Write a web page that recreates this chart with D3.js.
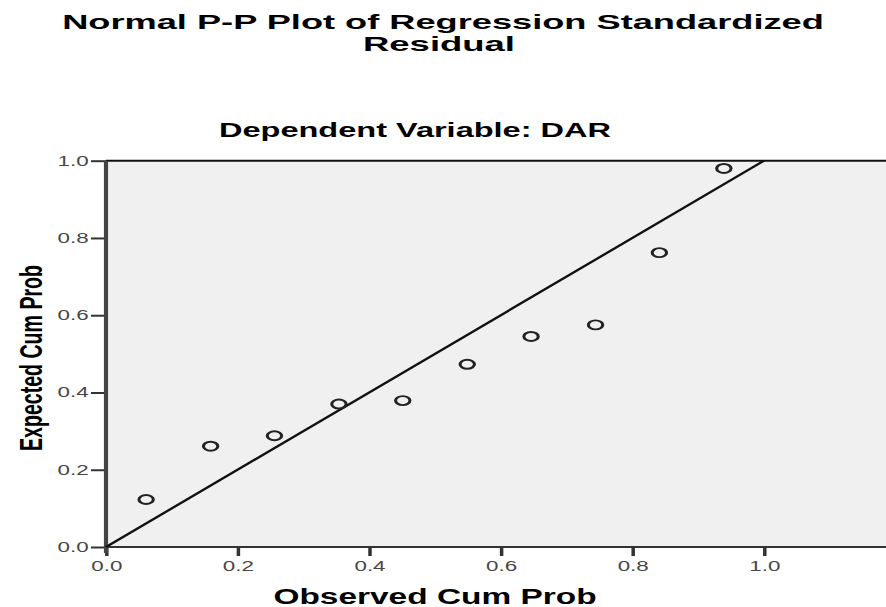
<!DOCTYPE html>
<html>
<head>
<meta charset="utf-8">
<script src="https://cdn.jsdelivr.net/npm/d3@7"></script>
<style>
  body { margin: 0; background: #fff; }
  text { font-family: "Liberation Sans", Arial, sans-serif; }
</style>
</head>
<body>
<div class="container"></div>
<script>
// observed / expected cumulative probabilities
let observed = [0.061, 0.159, 0.256, 0.354, 0.451, 0.549, 0.646, 0.744, 0.841, 0.939];
let expected = [0.123, 0.261, 0.288, 0.370, 0.379, 0.473, 0.545, 0.575, 0.762, 0.980];
let xTicks = [0, 0.2, 0.4, 0.6, 0.8, 1.0];
let yTicks = [0, 0.2, 0.4, 0.6, 0.8, 1.0];

let W = 886, H = 607;
// the original picture is stretched sideways, so draw narrow and scale up
let stretch = 1.6;
let innerW = W / stretch;

let plot = { left: 66.25, right: innerW, top: 160.7, bottom: 547 };

let svg = d3.select(".container")
    .append("svg")
    .attr("width", W)
    .attr("height", H)
    .append("g")
    .attr("transform", "scale(" + stretch + ",1)");

let x = d3.scaleLinear()
    .domain([0, 1])
    .range([plot.left, 477.5]);

let y = d3.scaleLinear()
    .domain([0, 1])
    .range([plot.bottom, plot.top]);

// titles
svg.append("text")
    .attr("x", innerW / 2)
    .attr("y", 29)
    .attr("text-anchor", "middle")
    .attr("font-size", 21)
    .attr("font-weight", "bold")
    .attr("textLength", 476)
    .attr("lengthAdjust", "spacingAndGlyphs")
    .text("Normal P-P Plot of Regression Standardized");

svg.append("text")
    .attr("x", 439 / stretch)
    .attr("y", 51)
    .attr("text-anchor", "middle")
    .attr("font-size", 21)
    .attr("font-weight", "bold")
    .attr("textLength", 95)
    .attr("lengthAdjust", "spacingAndGlyphs")
    .text("Residual");

svg.append("text")
    .attr("x", 415 / stretch)
    .attr("y", 137)
    .attr("text-anchor", "middle")
    .attr("font-size", 21)
    .attr("font-weight", "bold")
    .attr("textLength", 245)
    .attr("lengthAdjust", "spacingAndGlyphs")
    .text("Dependent Variable: DAR");

// plot background
svg.append("rect")
    .attr("x", plot.left)
    .attr("y", plot.top)
    .attr("width", plot.right - plot.left)
    .attr("height", plot.bottom - plot.top)
    .attr("fill", "#f0f0f0");

// top border
svg.append("line")
    .attr("x1", plot.left)
    .attr("x2", plot.right)
    .attr("y1", plot.top)
    .attr("y2", plot.top)
    .attr("stroke", "#111")
    .attr("stroke-width", 2);

// axes
let xAxis = svg.append("g")
    .attr("class", "axis")
    .attr("transform", "translate(0," + plot.bottom + ")")
    .call(d3.axisBottom(x)
        .tickValues(xTicks)
        .tickSize(9)
        .tickSizeOuter(0)
        .tickPadding(5)
        .tickFormat(d3.format(".1f")));

xAxis.select(".domain").remove();
xAxis.selectAll(".tick line").attr("stroke", "#333").attr("stroke-width", 2.2);

let yAxis = svg.append("g")
    .attr("class", "axis")
    .attr("transform", "translate(" + plot.left + ",0)")
    .call(d3.axisLeft(y)
        .tickValues(yTicks)
        .tickSize(9.4)
        .tickSizeOuter(0)
        .tickPadding(1.5)
        .tickFormat(d3.format(".1f")));

yAxis.select(".domain").remove();
yAxis.selectAll(".tick line").attr("stroke", "#333").attr("stroke-width", 2);

svg.selectAll(".axis text")
    .attr("font-size", 14)
    .attr("font-family", "Liberation Sans, Arial, sans-serif")
    .attr("fill", "#474747");

// axis lines
svg.append("line")
    .attr("x1", plot.left)
    .attr("x2", plot.right)
    .attr("y1", plot.bottom)
    .attr("y2", plot.bottom)
    .attr("stroke", "#333")
    .attr("stroke-width", 2);

svg.append("line")
    .attr("x1", plot.left)
    .attr("x2", plot.left)
    .attr("y1", plot.top)
    .attr("y2", plot.bottom + 6)
    .attr("stroke", "#444")
    .attr("stroke-width", 2.6);

// axis titles
svg.append("text")
    .attr("x", 435 / stretch)
    .attr("y", 604)
    .attr("text-anchor", "middle")
    .attr("font-size", 22)
    .attr("font-weight", "bold")
    .attr("textLength", 202)
    .attr("lengthAdjust", "spacingAndGlyphs")
    .text("Observed Cum Prob");

svg.append("text")
    .attr("transform", "translate(" + (42 / stretch) + ",358) rotate(-90)")
    .attr("text-anchor", "middle")
    .attr("font-size", 20)
    .attr("font-weight", "bold")
    .attr("textLength", 186)
    .attr("lengthAdjust", "spacingAndGlyphs")
    .text("Expected Cum Prob");

// reference diagonal
svg.append("line")
    .attr("x1", x(0))
    .attr("y1", y(0))
    .attr("x2", x(1))
    .attr("y2", y(1))
    .attr("stroke", "#111")
    .attr("stroke-width", 2);

// points
svg.append("g")
    .selectAll("circle")
    .data(observed)
    .enter()
    .append("circle")
    .attr("cx", function (d) {
        return x(d);
    })
    .attr("cy", function (d, i) {
        return y(expected[i]);
    })
    .attr("r", 4.5)
    .attr("fill", "none")
    .attr("stroke", "#222")
    .attr("stroke-width", 1.9);
</script>
</body>
</html>
